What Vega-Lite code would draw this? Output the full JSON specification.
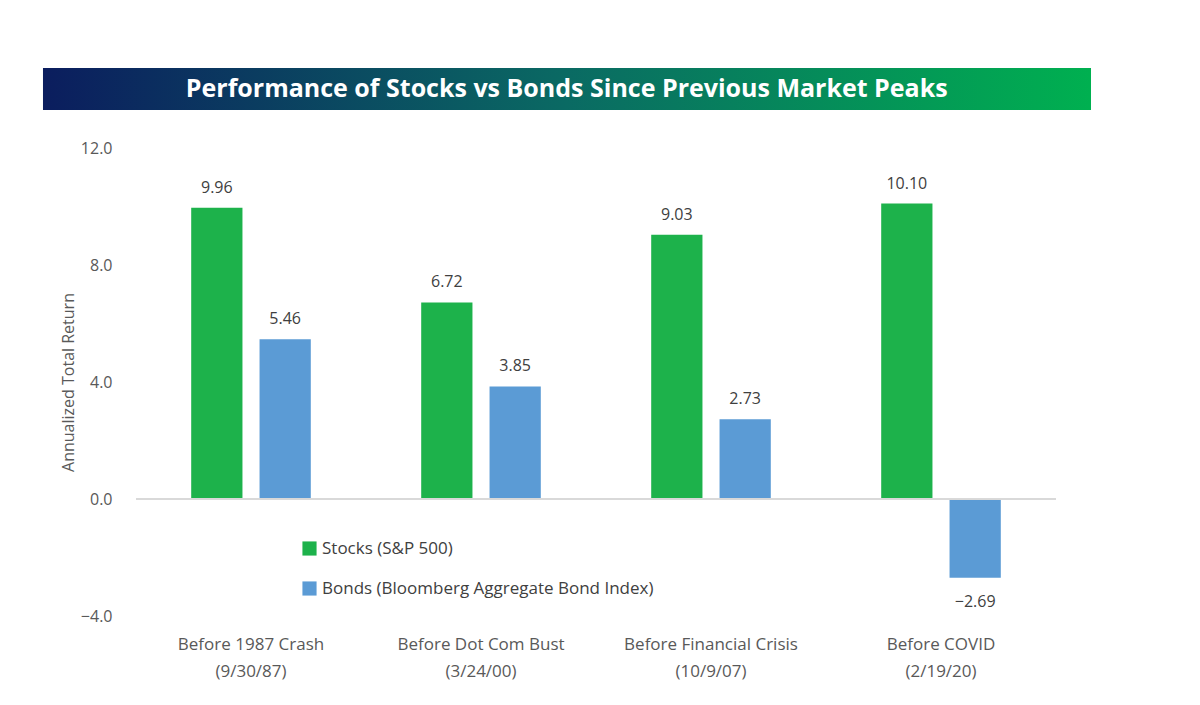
{
"$schema":"https://vega.github.io/schema/vega-lite/v6.json",
"padding":{"left":42,"top":68,"right":10,"bottom":10},
"background":"white",
"config":{"view":{"stroke":null},"font":"Open Sans"},
"spacing":30,
"datasets":{"bars":[
{"period":"Before 1987 Crash|(9/30/87)","series":"Stocks (S&P 500)","value":9.96},
{"period":"Before 1987 Crash|(9/30/87)","series":"Bonds (Bloomberg Aggregate Bond Index)","value":5.46},
{"period":"Before Dot Com Bust|(3/24/00)","series":"Stocks (S&P 500)","value":6.72},
{"period":"Before Dot Com Bust|(3/24/00)","series":"Bonds (Bloomberg Aggregate Bond Index)","value":3.85},
{"period":"Before Financial Crisis|(10/9/07)","series":"Stocks (S&P 500)","value":9.03},
{"period":"Before Financial Crisis|(10/9/07)","series":"Bonds (Bloomberg Aggregate Bond Index)","value":2.73},
{"period":"Before COVID|(2/19/20)","series":"Stocks (S&P 500)","value":10.10},
{"period":"Before COVID|(2/19/20)","series":"Bonds (Bloomberg Aggregate Bond Index)","value":-2.69}
],
"banner":[{"a":-0.0974,"b":1,"t":"Performance of Stocks vs Bonds Since Previous Market Peaks"}]},
"vconcat":[
{"width":955,"height":42,"data":{"name":"banner"},
"layer":[
{"mark":{"type":"rect","color":{"gradient":"linear","x1":0,"x2":1,"y1":0,"y2":0,"stops":[{"offset":0,"color":"#0b1d5e"},{"offset":0.5,"color":"#0a6a63"},{"offset":1,"color":"#00b050"}]}},
"encoding":{"x":{"field":"a","type":"quantitative","scale":{"domain":[0,1],"nice":false,"zero":false},"axis":null},"x2":{"field":"b"}}},
{"mark":{"type":"text","color":"white","fontSize":25,"fontWeight":"bold"},
"encoding":{"x":{"datum":0.451,"type":"quantitative"},"text":{"field":"t"}}}
]},
{"width":920,"height":468,"data":{"name":"bars"},
"encoding":{
"x":{"field":"period","type":"nominal","sort":["Before 1987 Crash|(9/30/87)","Before Dot Com Bust|(3/24/00)","Before Financial Crisis|(10/9/07)","Before COVID|(2/19/20)"],"scale":{"paddingInner":0.48,"paddingOuter":0.24},
"axis":{"title":null,"labelExpr":"split(datum.value,'|')","labelAngle":0,"labelFontSize":17,"labelColor":"#595959","domain":false,"ticks":false,"labelPadding":20,"labelLineHeight":27}},
"xOffset":{"field":"series","sort":["Stocks (S&P 500)","Bonds (Bloomberg Aggregate Bond Index)"],"scale":{"paddingInner":0.25}},
"y":{"field":"value","type":"quantitative","scale":{"domain":[-4,12],"nice":false},
"axis":{"title":"Annualized Total Return","titleFontSize":16,"titleFontWeight":"normal","titleColor":"#595959","values":[-4,0,4,8,12],"format":".1f","labelFontSize":16,"labelColor":"#595959","grid":false,"domain":false,"ticks":false,"labelPadding":24}}
},
"layer":[
{"mark":{"type":"bar"},
"encoding":{"color":{"field":"series","type":"nominal","sort":["Stocks (S&P 500)","Bonds (Bloomberg Aggregate Bond Index)"],
"scale":{"range":["#1db24b","#5b9bd5"]},
"legend":{"title":null,"orient":"none","legendX":165,"legendY":472,"symbolType":"square","symbolSize":200,"labelFontSize":17,"labelColor":"#404040","labelLimit":0,"rowPadding":22,"symbolStrokeWidth":0}}}},
{"mark":{"type":"rule","color":"#d9d9d9","strokeWidth":1.5},"encoding":{"y":{"datum":0},"x":{"value":0},"x2":{"value":920},"xOffset":null}},
{"transform":[{"filter":"datum.value>=0"}],"mark":{"type":"text","dy":-20,"fontSize":16,"color":"#404040"},"encoding":{"text":{"field":"value","format":".2f"}}},
{"transform":[{"filter":"datum.value<0"}],"mark":{"type":"text","dy":24,"fontSize":16,"color":"#404040"},"encoding":{"text":{"field":"value","format":".2f"}}}
]}
]}
